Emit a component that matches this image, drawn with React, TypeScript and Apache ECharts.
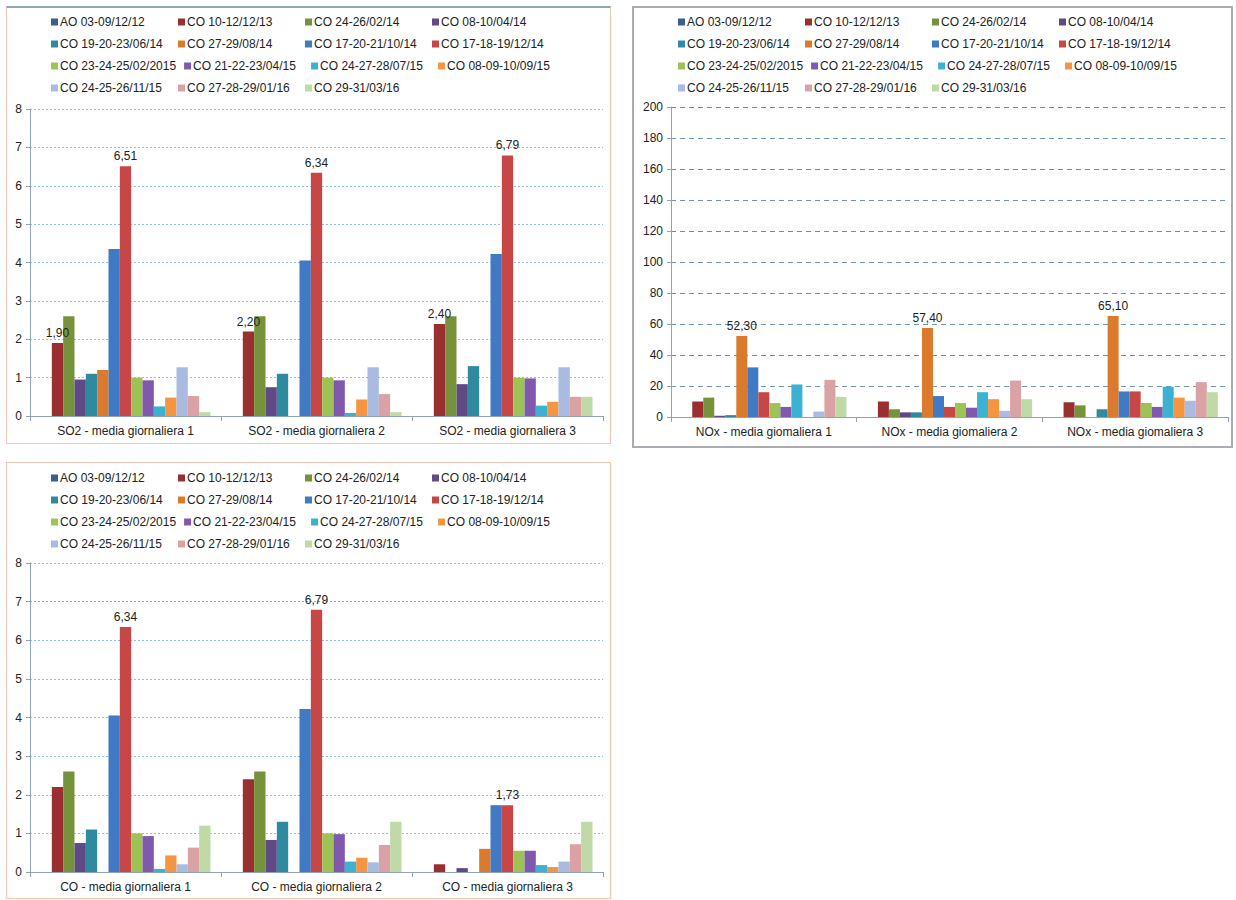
import React, { useEffect, useRef } from 'react';
import * as echarts from 'echarts';

const FONT = '"Liberation Sans", Arial, sans-serif';

const seriesNames = [
  'AO 03-09/12/12', 'CO 10-12/12/13', 'CO 24-26/02/14', 'CO 08-10/04/14',
  'CO 19-20-23/06/14', 'CO 27-29/08/14', 'CO 17-20-21/10/14', 'CO 17-18-19/12/14',
  'CO 23-24-25/02/2015', 'CO 21-22-23/04/15', 'CO 24-27-28/07/15', 'CO 08-09-10/09/15',
  'CO 24-25-26/11/15', 'CO 27-28-29/01/16', 'CO 29-31/03/16',
];
const seriesColors = [
  '#3a5f8f', '#9a2f2f', '#76933c', '#5f4a85', '#2f8aa0', '#db7a2c', '#4079c4', '#c64746',
  '#9cc354', '#8059ad', '#3cb2d2', '#f59540', '#a9bbe0', '#dba2a6', '#bfdaa6',
];

// SO2
const so2Categories = ['SO2 - media giornaliera 1', 'SO2 - media giornaliera 2', 'SO2 - media giornaliera 3'];
const so2Day1 = [0, 1.9, 2.6, 0.95, 1.1, 1.2, 4.35, 6.51, 1.0, 0.93, 0.25, 0.48, 1.27, 0.52, 0.1];
const so2Day2 = [0, 2.2, 2.6, 0.75, 1.1, 0, 4.05, 6.34, 1.0, 0.93, 0.08, 0.43, 1.27, 0.57, 0.1];
const so2Day3 = [0, 2.4, 2.6, 0.83, 1.3, 0, 4.22, 6.79, 1.0, 0.98, 0.27, 0.37, 1.27, 0.5, 0.5];
const so2Labelled = [1, 7];
const so2Ticks = [0, 8, 1];

// NOx
const noxCategories = ['NOx - media giomaliera 1', 'NOx - media giomaliera 2', 'NOx - media giomaliera 3'];
const noxDay1 = [0, 10, 12.5, 0.8, 1.2, 52.3, 32, 16, 9, 6.5, 21, 0, 3.5, 24, 13];
const noxDay2 = [0, 10, 5, 3, 3, 57.4, 13.5, 6.5, 9, 6, 16, 11.5, 4, 23.5, 11.5];
const noxDay3 = [0, 9.5, 7.5, 0, 5, 65.1, 16.5, 16.5, 9, 6.5, 19.5, 12.5, 10.5, 22.5, 16];
const noxLabelled = [5];
const noxTicks = [0, 200, 20];

// CO
const coCategories = ['CO - media giornaliera 1', 'CO - media giornaliera 2', 'CO - media giornaliera 3'];
const coDay1 = [0, 2.2, 2.6, 0.75, 1.1, 0, 4.05, 6.34, 1.0, 0.93, 0.08, 0.43, 0.2, 0.63, 1.2];
const coDay2 = [0, 2.4, 2.6, 0.83, 1.3, 0, 4.22, 6.79, 1.0, 0.98, 0.27, 0.37, 0.25, 0.7, 1.3];
const coDay3 = [0, 0.2, 0, 0.1, 0, 0.6, 1.73, 1.73, 0.55, 0.55, 0.18, 0.13, 0.27, 0.72, 1.3];
const coLabelled = [7];
const coTicks = [0, 8, 1];

type Cfg = {
  categories: string[];
  days: number[][];
  labelled: number[];
  ticks: number[];
  grid: { left: number; right: number; top: number; bottom: number };
  legendLeft: number;
  splitColors: string[];
  splitType: any;
};

function buildOption(c: Cfg): any {
  return {
    animation: false,
    textStyle: { fontFamily: FONT },
    legend: {
      left: c.legendLeft,
      top: 9,
      width: 530,
      padding: 0,
      itemWidth: 7,
      itemHeight: 7,
      itemGap: 8,
      icon: 'rect',
      selectedMode: false,
      data: seriesNames,
      textStyle: {
        fontFamily: FONT,
        fontSize: 12,
        color: '#222',
        width: 110,
        height: 14,
        lineHeight: 14,
        padding: [0, 0, 0, -3],
      },
    },
    grid: { ...c.grid, containLabel: false },
    xAxis: {
      type: 'category',
      data: c.categories,
      axisLine: { lineStyle: { color: '#8ea3b6', width: 1 } },
      axisTick: { show: true, length: 5, lineStyle: { color: '#8ea3b6' } },
      axisLabel: { color: '#222', fontSize: 12, fontFamily: FONT, margin: 9 },
    },
    yAxis: {
      type: 'value',
      min: c.ticks[0],
      max: c.ticks[1],
      interval: c.ticks[2],
      axisLine: { show: true, lineStyle: { color: '#8ea3b6', width: 1 } },
      axisTick: { show: true, length: 4, lineStyle: { color: '#8ea3b6' } },
      axisLabel: { color: '#222', fontSize: 12, fontFamily: FONT, margin: 8 },
      splitLine: { show: true, lineStyle: { color: c.splitColors, type: c.splitType, width: 1 } },
    },
    series: seriesNames.map((name, i) => ({
      name,
      type: 'bar',
      barGap: '0%',
      barCategoryGap: '11%',
      itemStyle: { color: seriesColors[i] },
      data: c.days.map((d) =>
        c.labelled.includes(i)
          ? {
              value: d[i],
              label: {
                show: true,
                position: 'top',
                distance: 4,
                color: '#222',
                fontSize: 12,
                fontFamily: FONT,
                formatter: (p: any) => Number(p.value).toFixed(2).replace('.', ','),
              },
            }
          : d[i]
      ),
    })),
  };
}

const cfgSO2: Cfg = {
  categories: so2Categories,
  days: [so2Day1, so2Day2, so2Day3],
  labelled: so2Labelled,
  ticks: so2Ticks,
  grid: { left: 24, right: 8, top: 103, bottom: 28 },
  legendLeft: 45,
  splitColors: ['#8dbde2'],
  splitType: [2, 2],
};
const cfgNOx: Cfg = {
  categories: noxCategories,
  days: [noxDay1, noxDay2, noxDay3],
  labelled: noxLabelled,
  ticks: noxTicks,
  grid: { left: 39, right: 5, top: 101, bottom: 31 },
  legendLeft: 46,
  splitColors: ['#9c7d7f', '#6f95ab'],
  splitType: [5, 4],
};
const cfgCO: Cfg = {
  categories: coCategories,
  days: [coDay1, coDay2, coDay3],
  labelled: coLabelled,
  ticks: coTicks,
  grid: { left: 24, right: 8, top: 101, bottom: 27 },
  legendLeft: 45,
  splitColors: ['#8dbde2', '#8dbde2', '#8dbde2', '#8dbde2', '#8dbde2', '#8dbde2', '#8dbde2', '#b89090', '#8dbde2'],
  splitType: [2, 2],
};

function Chart(props: { cfg: Cfg; box: { left: number; top: number; width: number; height: number }; border: React.CSSProperties }) {
  const ref = useRef<HTMLDivElement>(null);
  useEffect(() => {
    if (!ref.current) return;
    const chart = echarts.init(ref.current, undefined, { renderer: 'svg' });
    chart.setOption(buildOption(props.cfg));
    return () => chart.dispose();
  }, []);
  const { left, top, width, height } = props.box;
  return (
    <>
      <div ref={ref} style={{ position: 'absolute', left, top, width, height, background: '#fff' }} />
      <div
        style={{
          position: 'absolute',
          left,
          top,
          width,
          height,
          boxSizing: 'border-box',
          pointerEvents: 'none',
          ...props.border,
        }}
      />
    </>
  );
}

export default function App() {
  return (
    <div style={{ position: 'absolute', left: 0, top: 0, width: 1236, height: 900, background: '#fff', overflow: 'hidden' }}>
      <Chart
        cfg={cfgSO2}
        box={{ left: 6, top: 6, width: 605, height: 438 }}
        border={{ borderTop: '2px solid #8ea6b9', borderLeft: '1px solid #f3c7b3', borderRight: '1px solid #f3c7b3', borderBottom: '1px solid #f3c7b3' }}
      />
      <Chart
        cfg={cfgNOx}
        box={{ left: 632, top: 6, width: 601, height: 442 }}
        border={{ border: '2px solid #a9adb2' }}
      />
      <Chart
        cfg={cfgCO}
        box={{ left: 6, top: 462, width: 605, height: 437 }}
        border={{ border: '1px solid #f3c7b3' }}
      />
    </div>
  );
}
